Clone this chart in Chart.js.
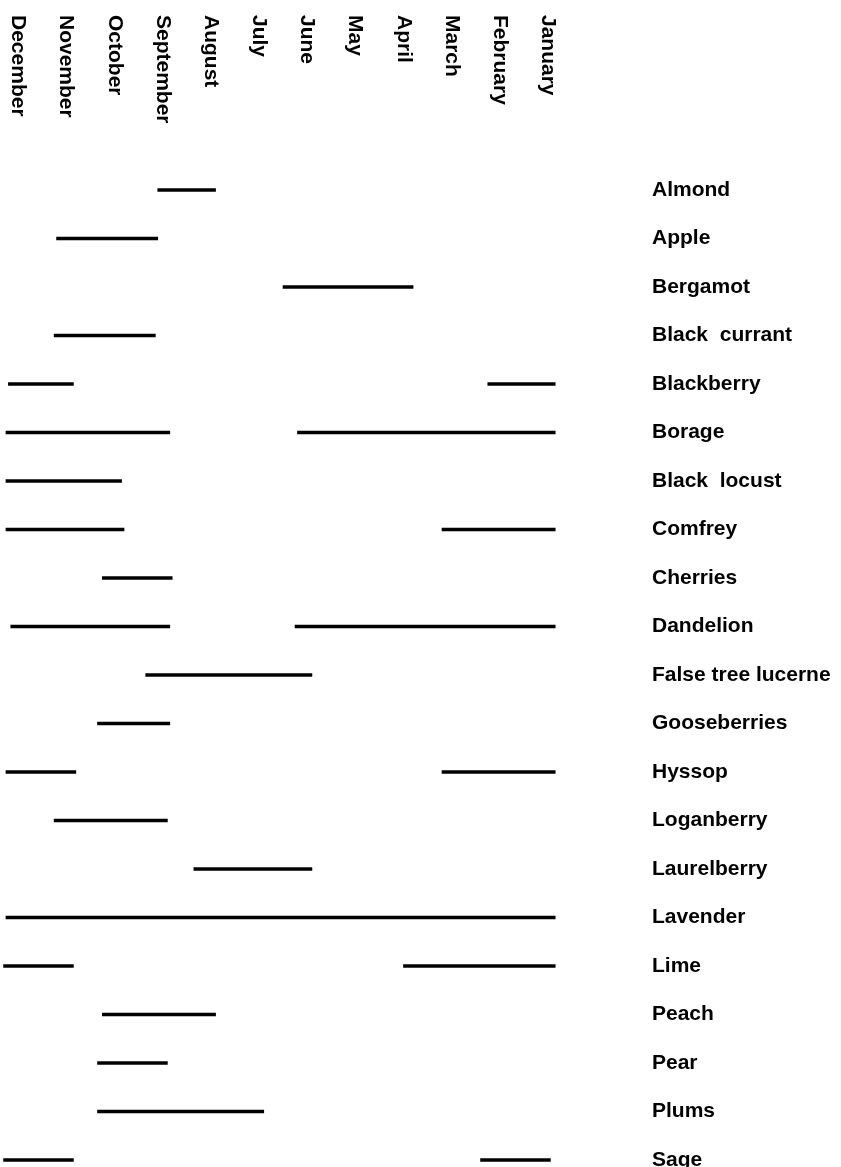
<!DOCTYPE html>
<html>
<head>
<meta charset="utf-8">
<script src="https://cdn.jsdelivr.net/npm/chart.js@4"></script>
<style>
  html, body { margin: 0; padding: 0; background: #fff; }
  #wrap { width: 841px; height: 1167px; }
</style>
</head>
<body>
<div id="wrap"><canvas id="chart-flowering"></canvas></div>
<script>
// months along the top, January on the right (month number 1..12)
var months = ['January', 'February', 'March', 'April', 'May', 'June',
              'July', 'August', 'September', 'October', 'November', 'December'];

var plants = ['Almond', 'Apple', 'Bergamot', 'Black  currant', 'Blackberry', 'Borage',
              'Black  locust', 'Comfrey', 'Cherries', 'Dandelion', 'False tree lucerne',
              'Gooseberries', 'Hyssop', 'Loganberry', 'Laurelberry', 'Lavender', 'Lime',
              'Peach', 'Pear', 'Plums', 'Sage'];

// first period (month number, fractions = part of the month)
var firstStart = [7.9, 9.1, 3.8, 9.15, 10.85, 8.85, 9.85, 9.8, 8.8, 8.85, 5.9,
                  8.85, 10.8, 8.9, 5.9, 0.85, 10.85, 7.9, 8.9, 6.9, 10.85];
var firstEnd   = [9.1, 11.2, 6.5, 11.25, 12.2, 12.25, 12.25, 12.25, 10.25, 12.15, 9.35,
                  10.35, 12.25, 11.25, 8.35, 12.25, 12.3, 10.25, 10.35, 10.35, 12.3];

// second period, where there is one
var secondStart = [null, null, null, null, 0.85, 0.85, null, 0.85, null, 0.85, null,
                   null, 0.85, null, null, null, 0.85, null, null, null, 0.95];
var secondEnd   = [null, null, null, null, 2.25, 6.2, null, 3.2, null, 6.25, null,
                   null, 3.2, null, null, null, 4.0, null, null, null, 2.4];

var firstSpan = plants.map(function (p, i) { return [firstStart[i], firstEnd[i]]; });
var secondSpan = plants.map(function (p, i) {
    return secondStart[i] === null ? null : [secondStart[i], secondEnd[i]];
});

var fontFamily = '"Liberation Sans", Arial, Helvetica, sans-serif';

// month names written top to bottom above the chart
var monthLabels = {
    id: 'monthLabels',
    afterDraw: function (chart) {
        var ctx = chart.ctx;
        var xs = chart.scales.x;
        ctx.save();
        ctx.font = 'bold 21px ' + fontFamily;
        ctx.fillStyle = '#000';
        ctx.textAlign = 'left';
        ctx.textBaseline = 'middle';
        months.forEach(function (m, i) {
            ctx.save();
            ctx.translate(xs.getPixelForValue(i + 1), 15);
            ctx.rotate(Math.PI / 2);
            ctx.fillText(m, 0, 0);
            ctx.restore();
        });
        ctx.restore();
    }
};

var ctx = document.getElementById('chart-flowering').getContext('2d');
var chart = new Chart(ctx, {
    type: 'bar',
    data: {
        labels: plants,
        datasets: [
            { data: firstSpan, backgroundColor: '#000', barThickness: 3, grouped: false, clip: false },
            { data: secondSpan, backgroundColor: '#000', barThickness: 3, grouped: false, clip: false }
        ]
    },
    options: {
        indexAxis: 'y',
        responsive: true,
        maintainAspectRatio: false,
        animation: false,
        layout: { padding: { top: 190, bottom: 7, left: 0, right: 0 } },
        plugins: {
            legend: { display: false },
            tooltip: { enabled: false }
        },
        scales: {
            x: {
                type: 'linear',
                display: false,
                reverse: true,
                min: -0.951,
                max: 12.374
            },
            y: {
                position: 'right',
                offset: false,
                grid: { display: false, drawTicks: false },
                border: { display: false },
                ticks: {
                    color: '#000',
                    padding: 10,
                    autoSkip: false,
                    font: { family: fontFamily, size: 21, weight: 'bold' }
                },
                afterFit: function (scale) {
                    scale.width = 199;
                    scale.paddingTop = 0;
                    scale.paddingBottom = 0;
                }
            }
        }
    },
    plugins: [monthLabels]
});
</script>
</body>
</html>
